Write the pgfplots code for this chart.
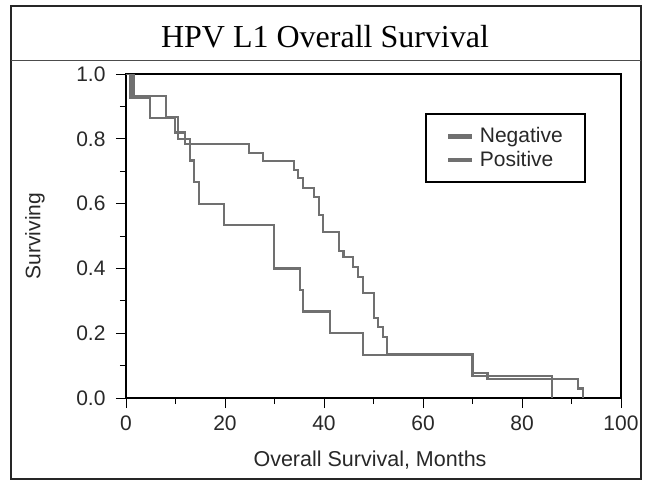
\documentclass[border=0pt]{standalone}
\usepackage{fontspec}
\setmainfont{Liberation Sans}
\newfontfamily\titlefont{Liberation Serif}
\usepackage{pgfplots}
\pgfplotsset{compat=1.18}
\definecolor{curve}{RGB}{112,112,112}
\definecolor{txt}{RGB}{40,40,40}

\pgfplotstableread{
x y
0 1
0.9 0.926
4.8 0.864
9.9 0.82
11.9 0.784
24.8 0.756
27.7 0.731
33.9 0.704
34.7 0.679
35.7 0.648
38 0.62
39 0.565
39.8 0.512
43 0.454
43.9 0.435
45.9 0.404
46.9 0.373
47.9 0.324
50.1 0.247
50.9 0.219
51.9 0.188
52.7 0.136
70.1 0.077
73 0.058
91.3 0.029
92.3 0
}\negative

\pgfplotstableread{
x y
0 1
1.5 0.933
8 0.867
10.5 0.8
12.9 0.733
13.7 0.667
14.7 0.6
19.8 0.533
29.9 0.4
35.2 0.333
35.8 0.267
41.2 0.2
47.9 0.133
70 0.067
86 0
}\positive

\begin{document}
\begin{tikzpicture}
\useasboundingbox (-126pt,-87pt) rectangle (526pt,398pt);
\fill[white] (-126pt,-87pt) rectangle (526pt,398pt);
\begin{axis}[
  at={(0pt,0pt)}, anchor=south west,
  scale only axis, width=495pt, height=324pt,
  xmin=0, xmax=100, ymin=0, ymax=1,
  xtick={0,20,40,60,80,100}, ytick={0,0.2,0.4,0.6,0.8,1.0},
  minor x tick num=1, minor y tick num=1,
  tick align=outside, xtick pos=lower, ytick pos=left,
  major tick length=10pt, minor tick length=6pt,
  every tick/.style={line width=0.9pt, black},
  axis line style={line width=2pt, black},
  font=\fontsize{21}{25}\selectfont,
  tick label style={text=txt, font=\fontsize{21}{25}\selectfont},
  xticklabel style={yshift=-4pt},
  yticklabel style={xshift=-7pt},
  /pgf/number format/assume math mode=true,
  yticklabel style={/pgf/number format/fixed, /pgf/number format/fixed zerofill, /pgf/number format/precision=1},
  xlabel={Overall Survival, Months},
  ylabel={Surviving},
  every axis x label/.style={at={(axis description cs:0.493,-0.191)}, anchor=center, text=txt, font=\fontsize{21.5}{25}\selectfont},
  every axis y label/.style={at={(axis description cs:-0.184,0.5)}, anchor=center, rotate=90, text=txt, font=\fontsize{21}{25}\selectfont},
  legend style={at={(axis description cs:0.604,0.880)}, anchor=north west, draw=black, line width=1.8pt,
    font=\fontsize{21}{25}\selectfont, text=txt, inner xsep=20pt, inner ysep=12pt, row sep=3pt,
    legend cell align=left},
]
\addplot[const plot, curve, line width=2.4pt, legend image code/.code={\draw[line width=5pt,curve] (0pt,0pt) -- (24pt,0pt);}] table[x=x,y=y] {\negative};
\addlegendentry{\hspace{3pt}Negative\hspace{20pt}}
\addplot[const plot, curve, line width=2.2pt, legend image code/.code={\draw[line width=3.5pt,curve] (0pt,0pt) -- (24pt,0pt);}] table[x=x,y=y] {\positive};
\addlegendentry{\hspace{3pt}Positive}
\end{axis}
\draw[line width=1.8pt, black!85] (-115pt,-81pt) rectangle (515pt,392pt);
\draw[line width=1pt, black!70] (-115pt,337pt) -- (515pt,337pt);
\node[font=\titlefont\fontsize{32}{38}\selectfont, anchor=base, text=black] at (199pt,350pt) {HPV L1 Overall Survival};
\end{tikzpicture}
\end{document}
